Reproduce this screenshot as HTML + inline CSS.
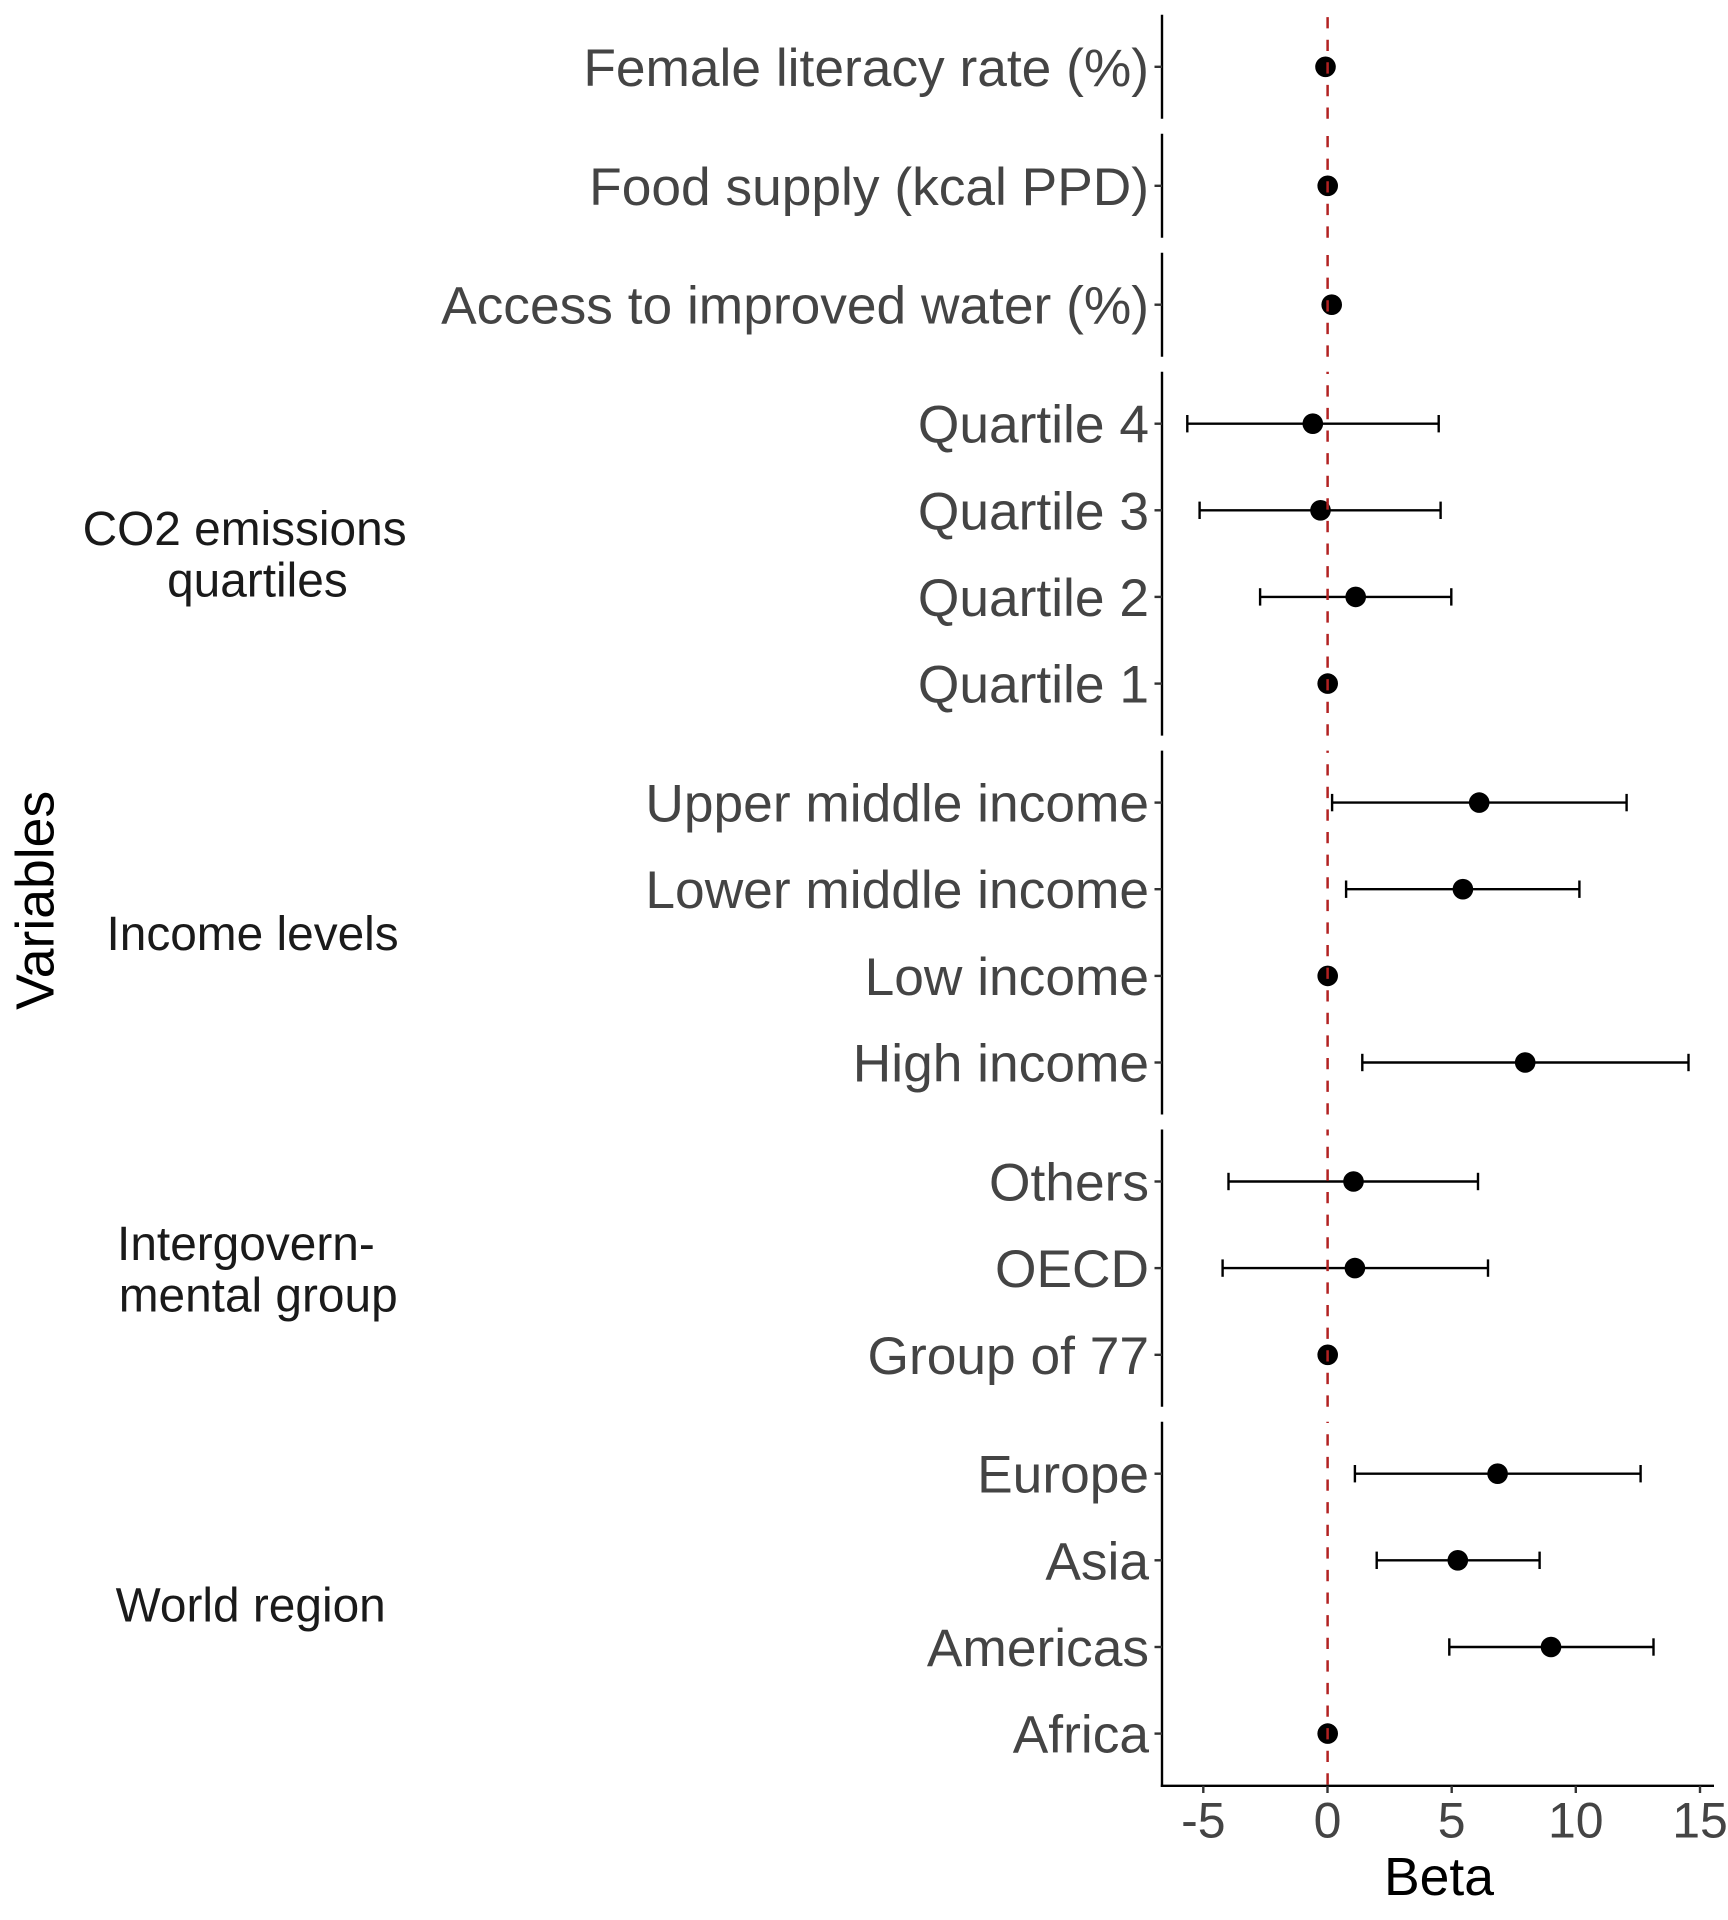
<!DOCTYPE html>
<html>
<head>
<meta charset="utf-8">
<style>
  html, body { margin: 0; padding: 0; background: #ffffff; }
  svg { display: block; }
  text { font-family: "Liberation Sans", Arial, sans-serif; }
</style>
</head>
<body>
<svg width="1728" height="1920" viewBox="0 0 1728 1920" xmlns="http://www.w3.org/2000/svg">
  <rect x="0" y="0" width="1728" height="1920" fill="#ffffff"/>

  <!-- Y axis lines per panel -->
  <g stroke="#000" stroke-width="2.4" fill="none">
    <line x1="1162" y1="14.8" x2="1162" y2="118.8"/>
    <line x1="1162" y1="133.8" x2="1162" y2="237.7"/>
    <line x1="1162" y1="252.7" x2="1162" y2="356.7"/>
    <line x1="1162" y1="371.7" x2="1162" y2="735.6"/>
    <line x1="1162" y1="750.6" x2="1162" y2="1114.5"/>
    <line x1="1162" y1="1129.5" x2="1162" y2="1406.7"/>
    <line x1="1162" y1="1421.7" x2="1162" y2="1787"/>
    <!-- X axis -->
    <line x1="1160.8" y1="1785.8" x2="1714" y2="1785.8"/>
  </g>

  <!-- Y ticks -->
  <g stroke="#333" stroke-width="2.4">
    <line x1="1154.5" y1="66.8" x2="1162" y2="66.8"/>
    <line x1="1154.5" y1="185.8" x2="1162" y2="185.8"/>
    <line x1="1154.5" y1="304.7" x2="1162" y2="304.7"/>
    <line x1="1154.5" y1="423.7" x2="1162" y2="423.7"/>
    <line x1="1154.5" y1="510.3" x2="1162" y2="510.3"/>
    <line x1="1154.5" y1="596.9" x2="1162" y2="596.9"/>
    <line x1="1154.5" y1="683.6" x2="1162" y2="683.6"/>
    <line x1="1154.5" y1="802.6" x2="1162" y2="802.6"/>
    <line x1="1154.5" y1="889.2" x2="1162" y2="889.2"/>
    <line x1="1154.5" y1="975.9" x2="1162" y2="975.9"/>
    <line x1="1154.5" y1="1062.5" x2="1162" y2="1062.5"/>
    <line x1="1154.5" y1="1181.5" x2="1162" y2="1181.5"/>
    <line x1="1154.5" y1="1268.1" x2="1162" y2="1268.1"/>
    <line x1="1154.5" y1="1354.8" x2="1162" y2="1354.8"/>
    <line x1="1154.5" y1="1473.7" x2="1162" y2="1473.7"/>
    <line x1="1154.5" y1="1560.3" x2="1162" y2="1560.3"/>
    <line x1="1154.5" y1="1647.0" x2="1162" y2="1647.0"/>
    <line x1="1154.5" y1="1733.6" x2="1162" y2="1733.6"/>
    <!-- X ticks -->
    <line x1="1203.3" y1="1785.8" x2="1203.3" y2="1793"/>
    <line x1="1327.5" y1="1785.8" x2="1327.5" y2="1793"/>
    <line x1="1451.7" y1="1785.8" x2="1451.7" y2="1793"/>
    <line x1="1575.8" y1="1785.8" x2="1575.8" y2="1793"/>
    <line x1="1700" y1="1785.8" x2="1700" y2="1793"/>
  </g>

  <!-- Y tick labels -->
  <g font-size="53.3" fill="#444444" text-anchor="end">
    <text x="1149" y="85.8">Female literacy rate (%)</text>
    <text x="1149" y="204.8">Food supply (kcal PPD)</text>
    <text x="1149" y="323.7">Access to improved water (%)</text>
    <text x="1149" y="442.7">Quartile 4</text>
    <text x="1149" y="529.3">Quartile 3</text>
    <text x="1149" y="615.9">Quartile 2</text>
    <text x="1149" y="702.6">Quartile 1</text>
    <text x="1149" y="821.6">Upper middle income</text>
    <text x="1149" y="908.2">Lower middle income</text>
    <text x="1149" y="994.9">Low income</text>
    <text x="1149" y="1081.5">High income</text>
    <text x="1149" y="1200.5">Others</text>
    <text x="1149" y="1287.1">OECD</text>
    <text x="1149" y="1373.8">Group of 77</text>
    <text x="1149" y="1492.7">Europe</text>
    <text x="1149" y="1579.3">Asia</text>
    <text x="1149" y="1666.0">Americas</text>
    <text x="1149" y="1752.6">Africa</text>
  </g>

  <!-- X tick labels -->
  <g font-size="50" fill="#444444" text-anchor="middle">
    <text x="1203.3" y="1837.3">-5</text>
    <text x="1327.5" y="1837.3">0</text>
    <text x="1451.7" y="1837.3">5</text>
    <text x="1575.8" y="1837.3">10</text>
    <text x="1700" y="1837.3">15</text>
  </g>

  <!-- Axis titles -->
  <text x="1439" y="1895" font-size="53.5" fill="#000" text-anchor="middle">Beta</text>
  <text transform="translate(53.6,900.4) rotate(-90)" x="0" y="0" font-size="53.5" fill="#000" text-anchor="middle">Variables</text>

  <!-- Strip labels -->
  <g font-size="47.8" fill="#1A1A1A" text-anchor="middle">
    <text x="244.6" y="545">CO2 emissions</text>
    <text x="257.4" y="596.7">quartiles</text>
    <text x="252.6" y="950">Income levels</text>
    <text x="245.9" y="1260">Intergovern-</text>
    <text x="258.2" y="1311.7">mental group</text>
    <text x="250.7" y="1621.7">World region</text>
  </g>

  <!-- Error bars -->
  <g stroke="#000" stroke-width="2.4" fill="none">
    <line x1="1187.3" y1="423.7" x2="1438.7" y2="423.7"/>
    <line x1="1187.3" y1="415" x2="1187.3" y2="432.4"/>
    <line x1="1438.7" y1="415" x2="1438.7" y2="432.4"/>
    <line x1="1199.6" y1="510.3" x2="1440.6" y2="510.3"/>
    <line x1="1199.6" y1="501.6" x2="1199.6" y2="519"/>
    <line x1="1440.6" y1="501.6" x2="1440.6" y2="519"/>
    <line x1="1260.1" y1="596.9" x2="1451.3" y2="596.9"/>
    <line x1="1260.1" y1="588.2" x2="1260.1" y2="605.6"/>
    <line x1="1451.3" y1="588.2" x2="1451.3" y2="605.6"/>
    <line x1="1332.1" y1="802.6" x2="1626.6" y2="802.6"/>
    <line x1="1332.1" y1="793.9" x2="1332.1" y2="811.3"/>
    <line x1="1626.6" y1="793.9" x2="1626.6" y2="811.3"/>
    <line x1="1346.1" y1="889.2" x2="1579.4" y2="889.2"/>
    <line x1="1346.1" y1="880.5" x2="1346.1" y2="897.9"/>
    <line x1="1579.4" y1="880.5" x2="1579.4" y2="897.9"/>
    <line x1="1362.3" y1="1062.5" x2="1688.5" y2="1062.5"/>
    <line x1="1362.3" y1="1053.8" x2="1362.3" y2="1071.2"/>
    <line x1="1688.5" y1="1053.8" x2="1688.5" y2="1071.2"/>
    <line x1="1228.5" y1="1181.5" x2="1478" y2="1181.5"/>
    <line x1="1228.5" y1="1172.8" x2="1228.5" y2="1190.2"/>
    <line x1="1478" y1="1172.8" x2="1478" y2="1190.2"/>
    <line x1="1222.6" y1="1268.1" x2="1488" y2="1268.1"/>
    <line x1="1222.6" y1="1259.4" x2="1222.6" y2="1276.8"/>
    <line x1="1488" y1="1259.4" x2="1488" y2="1276.8"/>
    <line x1="1354.9" y1="1473.7" x2="1640.6" y2="1473.7"/>
    <line x1="1354.9" y1="1465" x2="1354.9" y2="1482.4"/>
    <line x1="1640.6" y1="1465" x2="1640.6" y2="1482.4"/>
    <line x1="1376.7" y1="1560.3" x2="1539.6" y2="1560.3"/>
    <line x1="1376.7" y1="1551.6" x2="1376.7" y2="1569"/>
    <line x1="1539.6" y1="1551.6" x2="1539.6" y2="1569"/>
    <line x1="1449.3" y1="1647.0" x2="1653.5" y2="1647.0"/>
    <line x1="1449.3" y1="1638.3" x2="1449.3" y2="1655.7"/>
    <line x1="1653.5" y1="1638.3" x2="1653.5" y2="1655.7"/>
  </g>

  <!-- Points -->
  <g fill="#000">
    <circle cx="1325.5" cy="66.8" r="10.3"/>
    <circle cx="1327.7" cy="185.8" r="10.3"/>
    <circle cx="1331.7" cy="304.7" r="10.3"/>
    <circle cx="1312.8" cy="423.7" r="10.3"/>
    <circle cx="1320.5" cy="510.3" r="10.3"/>
    <circle cx="1355.7" cy="596.9" r="10.3"/>
    <circle cx="1327.7" cy="683.6" r="10.3"/>
    <circle cx="1479.2" cy="802.6" r="10.3"/>
    <circle cx="1462.9" cy="889.2" r="10.3"/>
    <circle cx="1327.7" cy="975.9" r="10.3"/>
    <circle cx="1525.2" cy="1062.5" r="10.3"/>
    <circle cx="1353.5" cy="1181.5" r="10.3"/>
    <circle cx="1354.9" cy="1268.1" r="10.3"/>
    <circle cx="1327.7" cy="1354.8" r="10.3"/>
    <circle cx="1497.6" cy="1473.7" r="10.3"/>
    <circle cx="1457.8" cy="1560.3" r="10.3"/>
    <circle cx="1551" cy="1647.0" r="10.3"/>
    <circle cx="1327.7" cy="1733.6" r="10.3"/>
  </g>

  <!-- Dashed reference line at 0, per panel (drawn bottom to top) -->
  <g stroke="#B22222" stroke-width="2.5" stroke-dasharray="11.3 11.3" fill="none">
    <line x1="1327.6" y1="118.8" x2="1327.6" y2="14.8"/>
    <line x1="1327.6" y1="237.7" x2="1327.6" y2="133.8"/>
    <line x1="1327.6" y1="356.7" x2="1327.6" y2="252.7"/>
    <line x1="1327.6" y1="735.6" x2="1327.6" y2="371.7"/>
    <line x1="1327.6" y1="1114.5" x2="1327.6" y2="750.6"/>
    <line x1="1327.6" y1="1406.7" x2="1327.6" y2="1129.5"/>
    <line x1="1327.6" y1="1784.6" x2="1327.6" y2="1421.7"/>
  </g>
</svg>
</body>
</html>
